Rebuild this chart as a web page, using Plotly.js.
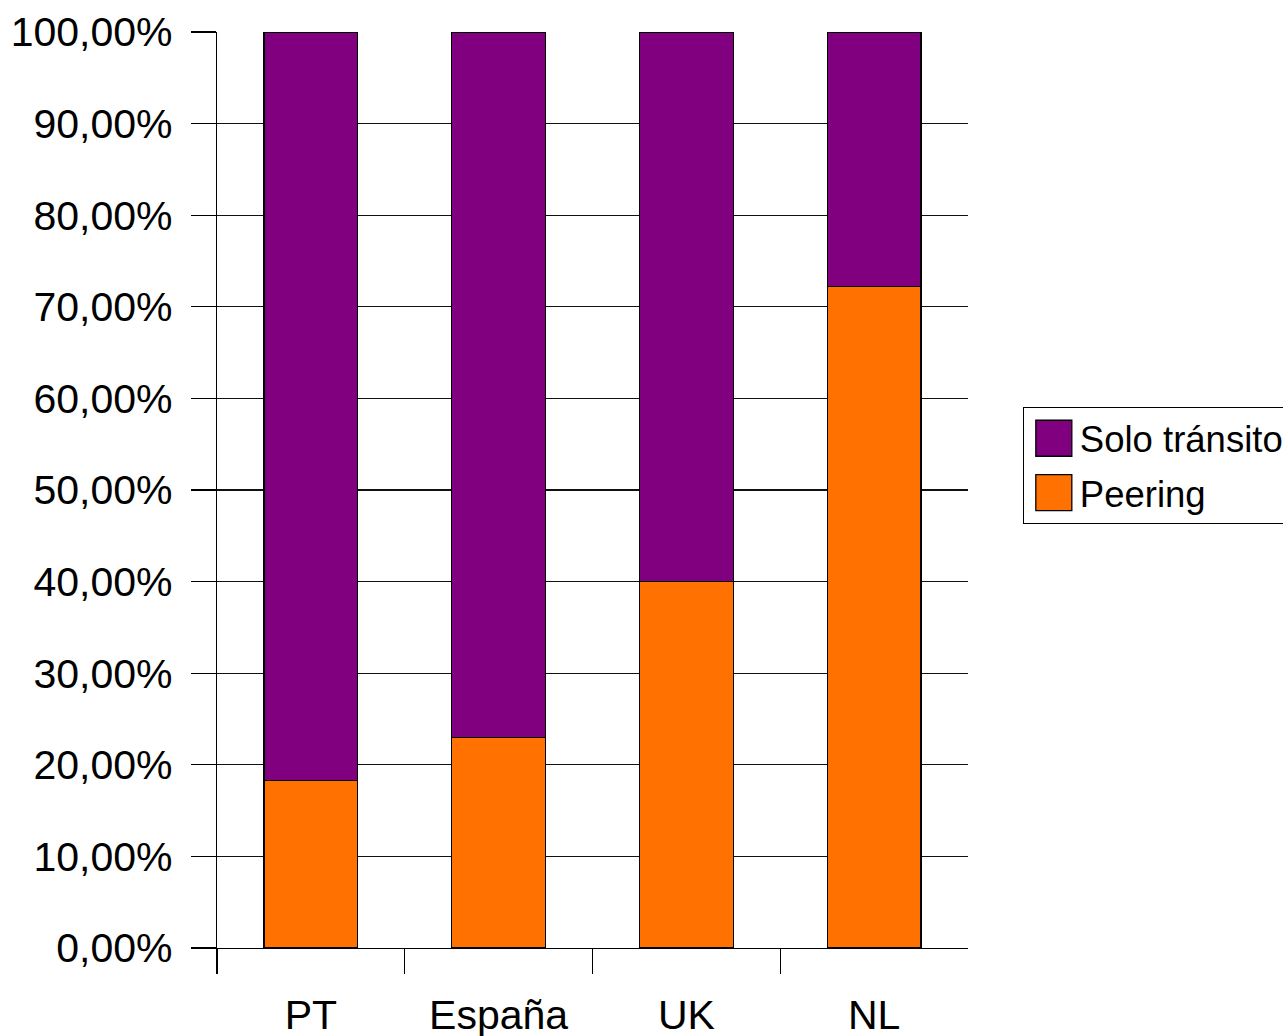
<!DOCTYPE html>
<html>
<head>
<meta charset="utf-8">
<script src="https://cdn.plot.ly/plotly-3.0.1.min.js"></script>
<style>html,body{margin:0;padding:0;background:#fff;}</style>
</head>
<body>
<div id="chart" style="width:1283px;height:1036px;"></div>
<script>
const categories = ["PT", "España", "UK", "NL"];
const peering = [0.183, 0.230, 0.400, 0.722];
const soloTransito = [0.817, 0.770, 0.600, 0.278];
const seriesNames = ["Peering", "Solo tránsito"];

const traces = [
  {type: "bar", name: seriesNames[0], legendgroup: "g1", legendrank: 2, x: categories, y: peering,
   marker: {color: "#ff7100", line: {color: "#000", width: 1.3}}, hoverinfo: "none"},
  {type: "bar", name: seriesNames[1], legendgroup: "g2", legendrank: 1, x: categories, y: soloTransito,
   marker: {color: "#800080", line: {color: "#000", width: 1.3}}, hoverinfo: "none"}
];

const layout = {
  width: 1283, height: 1036,
  margin: {l: 217, r: 315, t: 32, b: 88, pad: 0, autoexpand: false},
  paper_bgcolor: "#fff", plot_bgcolor: "#fff",
  separators: ",.",
  barmode: "stack", bargap: 0.5,
  font: {family: "Liberation Sans, Arial, sans-serif", color: "#000"},
  showlegend: true,
  legend: {x: 1.073, y: 0.5906, xanchor: "left", yanchor: "top",
    bordercolor: "#000", borderwidth: 1, bgcolor: "#fff", itemwidth: 46,
    font: {size: 36.5, color: "#000"}, traceorder: "grouped", tracegroupgap: 4},
  xaxis: {type: "category", showline: true, linecolor: "#000", linewidth: 1.3,
    ticks: "outside", tickson: "boundaries", ticklen: 25, tickcolor: "#000", tickwidth: 1.3,
    ticklabelstandoff: 30,
    tickfont: {size: 41}, showgrid: false, zeroline: false, fixedrange: true},
  yaxis: {range: [0, 1], tickvals: [0,0.1,0.2,0.3,0.4,0.5,0.6,0.7,0.8,0.9,1], tickformat: ".2%",
    showline: true, linecolor: "#000", linewidth: 1.3,
    ticks: "outside", ticklen: 25, tickcolor: "#000", tickwidth: 1.3,
    ticklabelstandoff: 10,
    showgrid: true, gridcolor: "#111", gridwidth: 1.3, zeroline: false,
    tickfont: {size: 41}, fixedrange: true}
};

Plotly.newPlot("chart", traces, layout, {staticPlot: true}).then(function(gd){
  document.querySelectorAll(".legendpoints path").forEach(function(p){
    p.setAttribute("transform", "translate(30,0) scale(3)");
    p.style.vectorEffect = "non-scaling-stroke";
    p.style.strokeWidth = "1.3px";
  });
  // hide the boundary tick at the right end of the x axis
  var ticks = Array.from(document.querySelectorAll("path.xtick.ticks, path.xtick"));
  var best = null, bestX = -Infinity;
  ticks.forEach(function(t){
    var m = /translate\(([-\d.]+)/.exec(t.getAttribute("transform") || "");
    if (m && parseFloat(m[1]) > bestX) { bestX = parseFloat(m[1]); best = t; }
  });
  if (best) best.style.display = "none";
});
</script>
</body>
</html>
